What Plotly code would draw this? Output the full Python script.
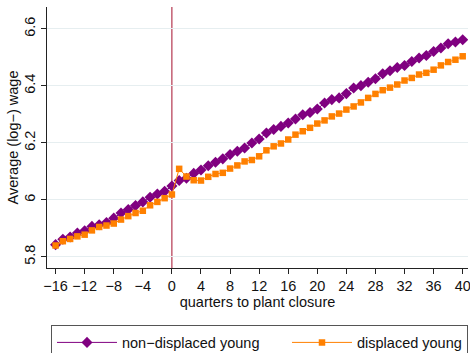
import plotly.graph_objects as go

quarters = list(range(-16, 41))

non_displaced_young = [
    5.843, 5.862, 5.870, 5.884, 5.892, 5.907, 5.913, 5.921, 5.936, 5.954,
    5.966, 5.980, 5.993, 6.009, 6.021, 6.030, 6.049,
    6.068, 6.076, 6.093, 6.105, 6.120, 6.132, 6.144, 6.159, 6.171, 6.182,
    6.200, 6.214, 6.235, 6.247, 6.258, 6.270, 6.284, 6.299, 6.307, 6.319,
    6.340, 6.352, 6.358, 6.373, 6.393, 6.401, 6.413, 6.425, 6.443, 6.453,
    6.465, 6.472, 6.486, 6.498, 6.507, 6.521, 6.533, 6.548, 6.554, 6.562,
]

displaced_young = [
    5.840, 5.855, 5.863, 5.872, 5.878, 5.893, 5.905, 5.910, 5.917, 5.931,
    5.943, 5.954, 5.962, 5.981, 5.993, 6.006, 6.019,
    6.109, 6.082, 6.069, 6.068, 6.081, 6.091, 6.095, 6.110, 6.121, 6.135,
    6.140, 6.153, 6.174, 6.188, 6.198, 6.212, 6.229, 6.241, 6.253, 6.268,
    6.279, 6.293, 6.303, 6.317, 6.328, 6.342, 6.358, 6.372, 6.385, 6.394,
    6.405, 6.419, 6.428, 6.440, 6.446, 6.457, 6.472, 6.484, 6.492, 6.504,
]

x_tick_vals = list(range(-16, 41, 4))
x_tick_text = [str(v).replace("-", "\u2212") for v in x_tick_vals]
y_tick_vals = [5.8, 6.0, 6.2, 6.4, 6.6]
y_tick_text = ["5.8", "6", "6.2", "6.4", "6.6"]
event_quarter = 0

FONT = "Liberation Sans, Arial, sans-serif"
FS = 14.5
PURPLE = "#800080"
ORANGE = "#ff8000"

fig = go.Figure()
fig.add_trace(go.Scatter(
    x=quarters, y=non_displaced_young, mode="lines+markers",
    name="non\u2212displaced young", legendwidth=160,
    line=dict(color=PURPLE, width=1),
    marker=dict(symbol="diamond", size=8.5, color=PURPLE),
))
fig.add_trace(go.Scatter(
    x=quarters, y=displaced_young, mode="lines+markers",
    name="displaced young", legendwidth=105,
    line=dict(color=ORANGE, width=1),
    marker=dict(symbol="square", size=6.5, color=ORANGE),
))

fig.add_shape(type="line", x0=event_quarter, x1=event_quarter, xref="x",
              y0=0, y1=1, yref="paper", layer="below",
              line=dict(color="#a50f2d", width=1))

fig.update_layout(
    width=470, height=353,
    margin=dict(l=47, r=2, t=7, b=85, autoexpand=False),
    paper_bgcolor="white", plot_bgcolor="white",
    font=dict(family=FONT, size=FS, color="#111"),
    showlegend=True,
    legend=dict(
        orientation="h", xref="container", yref="container",
        x=0.1085, xanchor="left", y=0.078, yanchor="top",
        bordercolor="#555", borderwidth=1, bgcolor="white",
        itemwidth=60,
        font=dict(family=FONT, size=FS, color="#111"),
    ),
    xaxis=dict(
        range=[-17.18, 40.73], tickvals=x_tick_vals, ticktext=x_tick_text,
        tickangle=0, automargin=False, ticklabeloverflow="allow",
        showgrid=False, zeroline=False, showline=True, linecolor="#222",
        linewidth=1, ticks="outside", ticklen=5, tickcolor="#222",
        title=dict(text="quarters to plant closure", standoff=2,
                   font=dict(family=FONT, size=FS)),
        tickfont=dict(family=FONT, size=FS),
    ),
    yaxis=dict(
        range=[5.761, 6.677], tickvals=y_tick_vals, ticktext=y_tick_text,
        automargin=False,
        showgrid=True, gridcolor="#e6eef0", gridwidth=1,
        zeroline=False, showline=True, linecolor="#222", linewidth=1,
        ticks="outside", ticklen=5, tickcolor="#222", tickangle=-90,
        title=dict(text="Average (log\u2212) wage", standoff=0,
                   font=dict(family=FONT, size=FS)),
        tickfont=dict(family=FONT, size=FS),
    ),
)

fig.write_html(
    "out.html",
    config={"displayModeBar": False},
    post_script="document.body.style.margin='0';document.body.style.padding='0';",
)
